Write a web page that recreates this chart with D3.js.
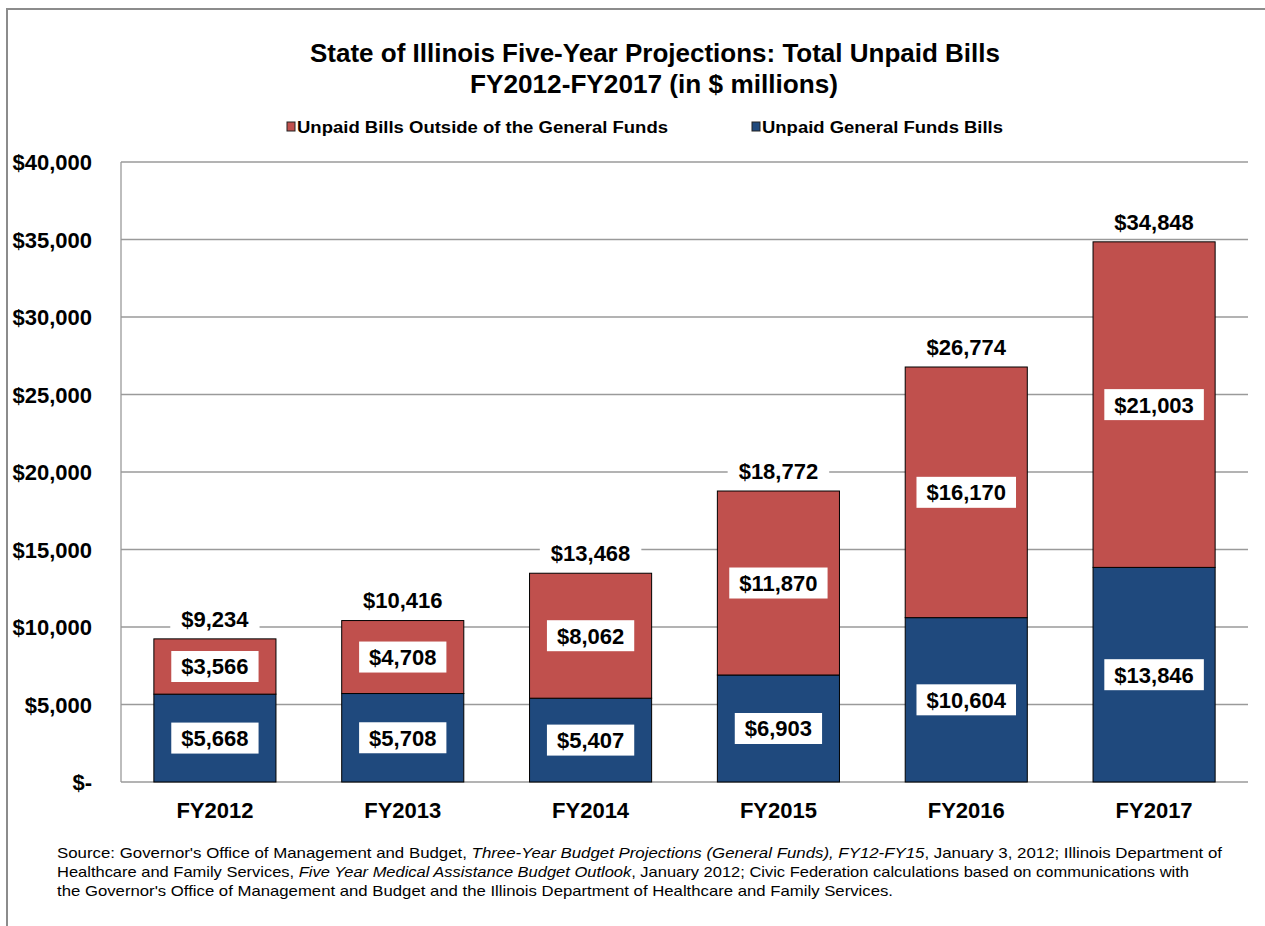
<!DOCTYPE html>
<html><head><meta charset="utf-8">
<script src="https://cdn.jsdelivr.net/npm/d3@7"></script>
<style>
html,body{margin:0;padding:0;background:#fff;}
svg{display:block;font-family:Arial,"Liberation Sans",sans-serif;}
</style></head>
<body><svg id="chart" width="1265" height="926"></svg>
<script>
const categories = ["FY2012","FY2013","FY2014","FY2015","FY2016","FY2017"];
const generalFunds = [5668, 5708, 5407, 6903, 10604, 13846];
const outsideFunds = [3566, 4708, 8062, 11870, 16170, 21003];
const totals = [9234, 10416, 13468, 18772, 26774, 34848];
const yTicks = [0, 5000, 10000, 15000, 20000, 25000, 30000, 35000, 40000];
const seriesNames = ["Unpaid Bills Outside of the General Funds", "Unpaid General Funds Bills"];
const colors = {outside: "#C0504D", general: "#1F497D"};

(function(){
const svg = d3.select("#chart");
const pLeft = 121, pRight = 1248, pTop = 162, pBottom = 782;
const numSize = 22;

const x = d3.scaleBand().domain(categories).range([pLeft, pRight]).paddingInner(0.35).paddingOuter(0.175);
const y = d3.scaleLinear().domain([0, 40000]).range([pBottom, pTop]);
const fmt = v => v === 0 ? "$-" : "$" + d3.format(",")(v);

// outer frame
svg.append("path").attr("d", "M7,926 L7,9 L1265,9").attr("fill","none").attr("stroke","#8c8c8c").attr("stroke-width",2);

// gridlines
svg.append("g").selectAll("line").data(yTicks).join("line")
  .attr("x1", pLeft).attr("x2", pRight).attr("y1", d => y(d)).attr("y2", d => y(d))
  .attr("stroke", "#9a9a9a").attr("stroke-width", 1.3);
svg.append("line").attr("x1", pLeft).attr("x2", pLeft).attr("y1", pTop).attr("y2", pBottom)
  .attr("stroke", "#9a9a9a").attr("stroke-width", 1.3);

// y axis labels
const yAxis = d3.axisLeft(y).tickValues(yTicks).tickFormat(fmt).tickSize(0).tickPadding(0);
const ya = svg.append("g").attr("transform", `translate(92,0)`).call(yAxis);
ya.select(".domain").remove();
ya.selectAll("text").attr("font-size", numSize).attr("font-weight", "bold").attr("fill", "#000")
  .attr("font-family", "Arial, 'Liberation Sans', sans-serif").attr("dy", "0.36em");

// x axis labels
const xAxis = d3.axisBottom(x).tickSize(0).tickPadding(0);
const xa = svg.append("g").attr("transform", `translate(0,818)`).call(xAxis);
xa.select(".domain").remove();
xa.selectAll("text").attr("font-size", numSize).attr("font-weight", "bold").attr("fill", "#000")
  .attr("font-family", "Arial, 'Liberation Sans', sans-serif").attr("dy", 0);

// bars
const data = categories.map((c, i) => ({c, g: generalFunds[i], o: outsideFunds[i], t: totals[i]}));
const bars = svg.append("g");
bars.selectAll(".gen").data(data).join("rect").attr("class", "gen")
  .attr("x", d => x(d.c)).attr("width", x.bandwidth())
  .attr("y", d => y(d.g)).attr("height", d => y(0) - y(d.g))
  .attr("fill", colors.general).attr("stroke", "#000").attr("stroke-width", 1);
bars.selectAll(".out").data(data).join("rect").attr("class", "out")
  .attr("x", d => x(d.c)).attr("width", x.bandwidth())
  .attr("y", d => y(d.g + d.o)).attr("height", d => y(d.g) - y(d.g + d.o))
  .attr("fill", colors.outside).attr("stroke", "#000").attr("stroke-width", 1);

// labels with white boxes
function boxedLabel(g, cx, cy, text, padX, boxH) {
  const r = g.append("rect").attr("fill", "#fff");
  const t = g.append("text").attr("x", cx).attr("y", cy).attr("dy", "0.36em")
    .attr("text-anchor", "middle").attr("font-size", numSize).attr("font-weight", "bold").attr("fill", "#000").text(text);
  const w = t.node().getComputedTextLength();
  r.attr("x", cx - w/2 - padX).attr("y", cy - boxH/2).attr("width", w + 2*padX).attr("height", boxH);
}
data.forEach(d => {
  const cx = x(d.c) + x.bandwidth()/2;
  boxedLabel(svg.append("g"), cx, (y(0) + y(d.g))/2, fmt(d.g), 10, 31);
  boxedLabel(svg.append("g"), cx, (y(d.g) + y(d.g + d.o))/2, fmt(d.o), 10, 31);
  boxedLabel(svg.append("g"), cx, y(d.g + d.o) - 20, fmt(d.t), 11, 26);
});

// title
const title = svg.append("g").attr("font-weight", "bold").attr("font-size", 25).attr("text-anchor", "middle");
title.append("text").attr("x", 655).attr("y", 62).attr("textLength", 690).attr("lengthAdjust", "spacingAndGlyphs")
  .text("State of Illinois Five-Year Projections: Total Unpaid Bills");
title.append("text").attr("x", 654).attr("y", 93).attr("textLength", 368).attr("lengthAdjust", "spacingAndGlyphs")
  .text("FY2012-FY2017 (in $ millions)");

// legend
const legendItems = [
  {name: seriesNames[0], color: colors.outside, sx: 287, tx: 297, tw: 371},
  {name: seriesNames[1], color: colors.general, sx: 752, tx: 762, tw: 241}
];
const lg = svg.append("g");
legendItems.forEach(it => {
  lg.append("rect").attr("x", it.sx).attr("y", 122).attr("width", 8).attr("height", 9)
    .attr("fill", it.color).attr("stroke", "#222").attr("stroke-width", 1);
  lg.append("text").attr("x", it.tx).attr("y", 133).attr("font-size", 16).attr("font-weight", "bold")
    .attr("textLength", it.tw).attr("lengthAdjust", "spacingAndGlyphs").text(it.name);
});

// source
const src = svg.append("g").attr("font-size", 15).attr("fill", "#000");
const lines = [
  {y: 858, w: 1165, parts: [["Source: Governor's Office of Management and Budget, ", false], ["Three-Year Budget Projections (General Funds), FY12-FY15", true], [", January 3, 2012; Illinois Department of", false]]},
  {y: 877, w: 1132, parts: [["Healthcare and Family Services, ", false], ["Five Year Medical Assistance Budget Outlook", true], [", January 2012; Civic Federation calculations based on communications with", false]]},
  {y: 896, w: 836, parts: [["the Governor's Office of Management and Budget and the Illinois Department of Healthcare and Family Services.", false]]}
];
lines.forEach(l => {
  const t = src.append("text").attr("x", 57).attr("y", l.y).attr("textLength", l.w).attr("lengthAdjust", "spacingAndGlyphs");
  l.parts.forEach(p => t.append("tspan").attr("font-style", p[1] ? "italic" : "normal").text(p[0]));
});
})();
</script></body></html>
